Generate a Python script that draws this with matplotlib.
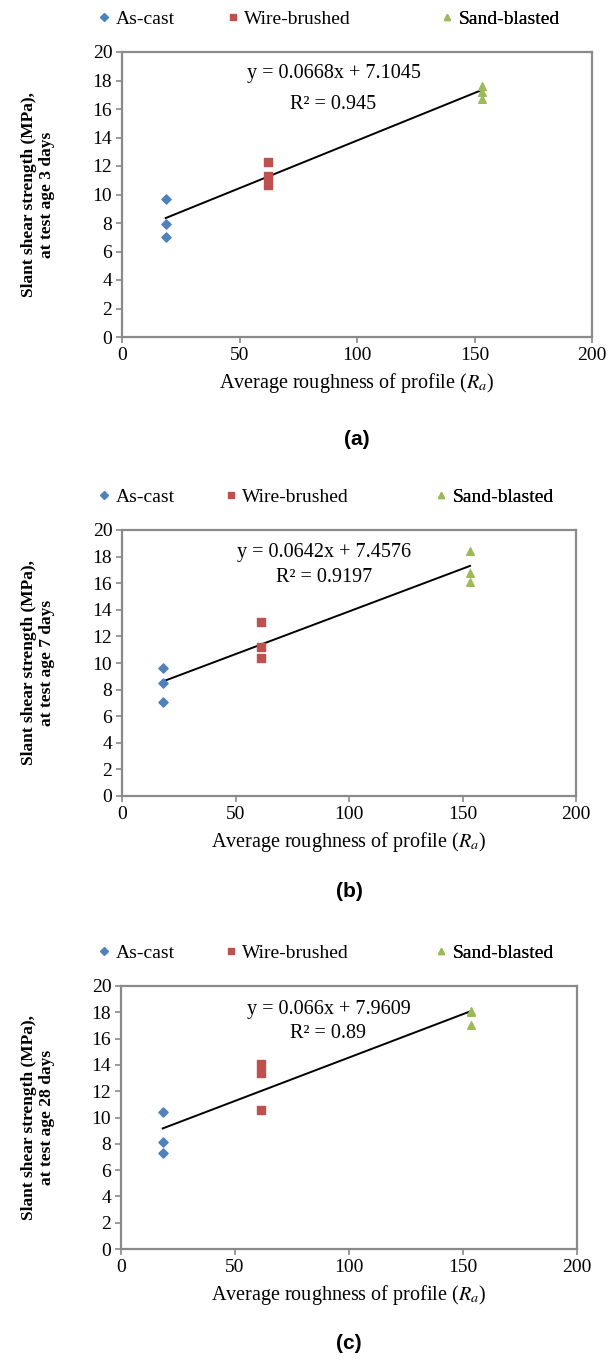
import matplotlib
matplotlib.use("Agg")
import matplotlib.pyplot as plt
from matplotlib.lines import Line2D

plt.rcParams["font.family"] = ["Liberation Serif", "DejaVu Serif"]
plt.rcParams["mathtext.fontset"] = "stix"

# data (x = Ra, y = slant shear strength, MPa)
ascast_x = [[18.6, 18.6, 18.6], [18.0, 18.0, 18.0], [18.3, 18.3, 18.3]]
ascast_y = [[9.7, 7.9, 7.0], [9.6, 8.5, 7.1], [10.4, 8.1, 7.3]]
wire_x = [[62.0, 62.0, 62.0], [61.2, 61.2, 61.2], [61.3, 61.3, 61.3]]
wire_y = [[12.3, 11.3, 10.7], [13.1, 11.2, 10.4], [14.1, 13.4, 10.6]]
sand_x = [[153.0, 153.0, 153.0], [153.3, 153.3, 153.3], [153.4, 153.4, 153.4]]
sand_y = [[17.6, 17.2, 16.7], [18.4, 16.8, 16.1], [18.1, 18.0, 17.0]]

slopes = [0.0668, 0.0642, 0.066]
intercepts = [7.1045, 7.4576, 7.9609]
eq_lines = ["y = 0.0668x + 7.1045", "y = 0.0642x + 7.4576", "y = 0.066x + 7.9609"]
r2_lines = ["R² = 0.945", "R² = 0.9197", "R² = 0.89"]
ages = [3, 7, 28]
panel_names = ["(a)", "(b)", "(c)"]
series_names = ["As-cast", "Wire-brushed", "Sand-blasted"]

x_ticks = [0, 50, 100, 150, 200]
y_ticks = [0, 2, 4, 6, 8, 10, 12, 14, 16, 18, 20]

W, H = 612, 1362
# axes boxes in pixels: left, top, right, bottom
boxes = [(122, 52, 592, 337), (122, 530, 576, 796), (121, 986, 577, 1249)]
# equation placement (data coords): x centre, y of first and second line
eq_pos = [(90, 18.5, 16.3), (89, 18.3, 16.4), (91, 18.2, 16.4)]
# legend marker x positions in pixels
legend_px = [(104, 233, 447), (104, 231, 441), (104, 231, 441)]

colors = ["#4F81BD", "#C0504D", "#9BBB59"]
markers = ["D", "s", "^"]
spine_col = "#8a8a8a"

fig = plt.figure(figsize=(W / 100, H / 100), dpi=100)

for i in range(3):
    l, t, r, b = boxes[i]
    ax = fig.add_axes([l / W, 1 - b / H, (r - l) / W, (b - t) / H])

    ax.scatter(ascast_x[i], ascast_y[i], marker="D", s=22, color=colors[0], zorder=3)
    ax.scatter(wire_x[i], wire_y[i], marker="s", s=26, color=colors[1], zorder=3)
    ax.scatter(sand_x[i], sand_y[i], marker="^", s=30, color=colors[2], zorder=3)

    all_x = ascast_x[i] + wire_x[i] + sand_x[i]
    x0, x1 = min(all_x), max(all_x)
    ax.plot([x0, x1], [slopes[i] * x0 + intercepts[i], slopes[i] * x1 + intercepts[i]],
            color="black", lw=1.4, zorder=2)

    ex, ey1, ey2 = eq_pos[i]
    ax.text(ex, ey1, eq_lines[i], ha="center", va="center", fontsize=14.5)
    ax.text(ex, ey2, r2_lines[i], ha="center", va="center", fontsize=14.5)

    ax.set_xlim(0, 200)
    ax.set_ylim(0, 20)
    ax.set_xticks(x_ticks)
    ax.set_yticks(y_ticks)
    ax.tick_params(labelsize=14, length=4, width=1.2, color=spine_col, direction="out", pad=3)
    for s in ax.spines.values():
        s.set_color(spine_col)
        s.set_linewidth(1.6)

    ax.set_xlabel("Average roughness of profile ($\\mathit{R}_a$)", fontsize=14.5, labelpad=5)
    ax.set_ylabel("Slant shear strength (MPa),\nat test age %d days" % ages[i],
                  fontsize=12.5, fontweight="bold", linespacing=1.2)
    # right edge of the two-line label block sits about 55 px from the left
    ax.yaxis.set_label_coords((55 - l) / (r - l), 0.5)

    # one small legend per series so the spacing follows the original layout
    for k in range(3):
        h = Line2D([], [], ls="none", marker=markers[k], color=colors[k], markersize=4.5)
        lx = (legend_px[i][k] - 8 - l) / (r - l)
        leg = ax.legend([h], [series_names[k]], loc="center left",
                        bbox_to_anchor=(lx, 1 + 33 / (b - t)), frameon=False,
                        fontsize=14, handletextpad=0.2, handlelength=0.8,
                        borderpad=0, borderaxespad=0)
        ax.add_artist(leg)

    ax.text(0.5, -0.36, panel_names[i], transform=ax.transAxes, ha="center", va="center",
            fontsize=15, fontweight="bold", family="Liberation Sans")

fig.savefig("out.png", dpi=100)
